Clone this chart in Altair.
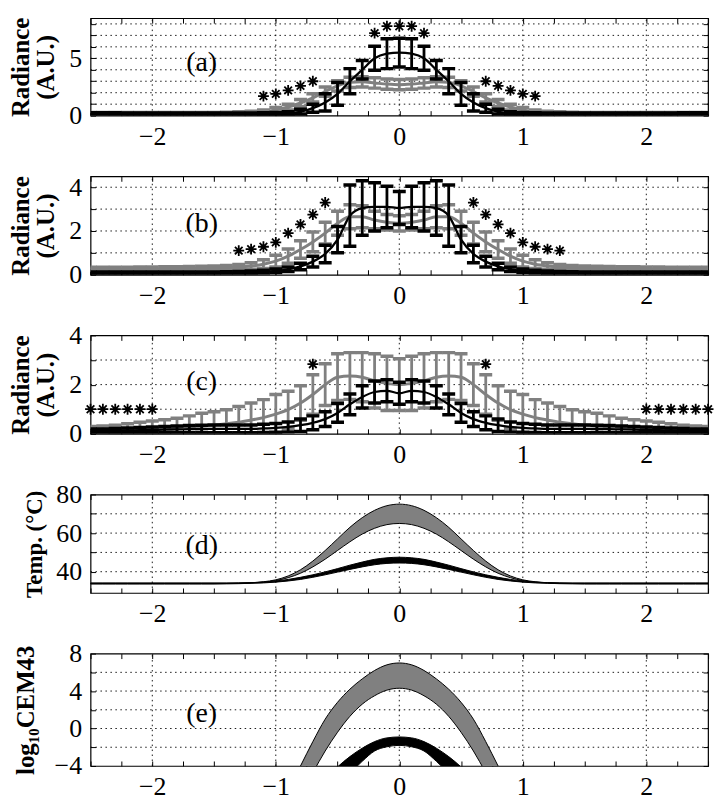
import altair as alt
import pandas as pd

# ---------------- data ----------------
X = [-2.5, -2.4, -2.3, -2.2, -2.1, -2.0, -1.9, -1.8, -1.7, -1.6,
     -1.5, -1.4, -1.3, -1.2, -1.1, -1.0, -0.9, -0.8, -0.7, -0.6,
     -0.5, -0.4, -0.3, -0.2, -0.1, 0.0, 0.1, 0.2, 0.3, 0.4,
     0.5, 0.6, 0.7, 0.8, 0.9, 1.0, 1.1, 1.2, 1.3, 1.4,
     1.5, 1.6, 1.7, 1.8, 1.9, 2.0, 2.1, 2.2, 2.3, 2.4,
     2.5]

# panel (a)
A_BLACK_MEAN = [0.15, 0.15, 0.15, 0.14, 0.14, 0.13, 0.13, 0.13, 0.13, 0.13,
                0.13, 0.13, 0.13, 0.14, 0.15, 0.17, 0.22, 0.35, 0.65, 1.15,
                1.9, 3.0, 4.0, 5.0, 5.4, 5.5, 5.4, 5.0, 4.0, 3.0,
                1.9, 1.15, 0.65, 0.35, 0.22, 0.17, 0.15, 0.14, 0.13, 0.13,
                0.13, 0.13, 0.13, 0.13, 0.13, 0.13, 0.14, 0.14, 0.15, 0.15,
                0.15]
A_BLACK_ERR = [0.1, 0.1, 0.1, 0.1, 0.1, 0.1, 0.1, 0.1, 0.1, 0.1,
               0.1, 0.1, 0.1, 0.1, 0.1, 0.1, 0.12, 0.2, 0.35, 0.75,
               1.0, 1.1, 0.8, 1.05, 1.3, 1.25, 1.3, 1.05, 0.8, 1.1,
               1.0, 0.75, 0.35, 0.2, 0.12, 0.1, 0.1, 0.1, 0.1, 0.1,
               0.1, 0.1, 0.1, 0.1, 0.1, 0.1, 0.1, 0.1, 0.1, 0.1,
               0.1]
A_GREY_MEAN = [0.2, 0.2, 0.2, 0.2, 0.2, 0.2, 0.2, 0.2, 0.2, 0.2,
               0.2, 0.21, 0.23, 0.27, 0.35, 0.5, 0.75, 1.1, 1.55, 2.1,
               2.6, 2.9, 2.95, 2.85, 2.75, 2.7, 2.75, 2.85, 2.95, 2.9,
               2.6, 2.1, 1.55, 1.1, 0.75, 0.5, 0.35, 0.27, 0.23, 0.21,
               0.2, 0.2, 0.2, 0.2, 0.2, 0.2, 0.2, 0.2, 0.2, 0.2,
               0.2]
A_GREY_ERR = [0.08, 0.08, 0.08, 0.08, 0.08, 0.08, 0.08, 0.08, 0.08, 0.08,
              0.08, 0.08, 0.1, 0.12, 0.15, 0.2, 0.25, 0.3, 0.35, 0.4,
              0.45, 0.45, 0.45, 0.45, 0.45, 0.45, 0.45, 0.45, 0.45, 0.45,
              0.45, 0.4, 0.35, 0.3, 0.25, 0.2, 0.15, 0.12, 0.1, 0.08,
              0.08, 0.08, 0.08, 0.08, 0.08, 0.08, 0.08, 0.08, 0.08, 0.08,
              0.08]
A_STAR_X = [-1.1, -1.0, -0.9, -0.8, -0.7, -0.2, -0.1, 0.0, 0.1, 0.2, 0.7, 0.8, 0.9, 1.0, 1.1]
A_STAR_Y = [1.7, 1.9, 2.2, 2.6, 3.0, 7.2, 7.8, 7.8, 7.8, 7.2, 3.0, 2.6, 2.2, 1.9, 1.7]

# panel (b)
B_BLACK_MEAN = [0.07, 0.07, 0.07, 0.07, 0.07, 0.07, 0.07, 0.07, 0.07, 0.08,
                0.08, 0.09, 0.1, 0.12, 0.14, 0.18, 0.25, 0.38, 0.6, 0.95,
                1.6, 2.7, 3.05, 3.1, 3.1, 3.05, 3.1, 3.1, 3.05, 2.7,
                1.6, 0.95, 0.6, 0.38, 0.25, 0.18, 0.14, 0.12, 0.1, 0.09,
                0.08, 0.08, 0.07, 0.07, 0.07, 0.07, 0.07, 0.07, 0.07, 0.07,
                0.07]
B_BLACK_ERR = [0.05, 0.05, 0.05, 0.05, 0.05, 0.05, 0.05, 0.05, 0.05, 0.05,
               0.05, 0.05, 0.05, 0.05, 0.06, 0.08, 0.1, 0.15, 0.25, 0.4,
               0.6, 1.4, 1.25, 1.1, 0.95, 0.75, 0.95, 1.1, 1.25, 1.4,
               0.6, 0.4, 0.25, 0.15, 0.1, 0.08, 0.06, 0.05, 0.05, 0.05,
               0.05, 0.05, 0.05, 0.05, 0.05, 0.05, 0.05, 0.05, 0.05, 0.05,
               0.05]
B_GREY_MEAN = [0.24, 0.24, 0.24, 0.24, 0.25, 0.25, 0.26, 0.27, 0.28, 0.29,
               0.3, 0.32, 0.35, 0.4, 0.48, 0.62, 0.85, 1.15, 1.5, 1.9,
               2.35, 2.65, 2.65, 2.5, 2.4, 2.35, 2.4, 2.5, 2.65, 2.65,
               2.35, 1.9, 1.5, 1.15, 0.85, 0.62, 0.48, 0.4, 0.35, 0.32,
               0.3, 0.29, 0.28, 0.27, 0.26, 0.25, 0.25, 0.24, 0.24, 0.24,
               0.24]
B_GREY_ERR = [0.1, 0.1, 0.1, 0.1, 0.1, 0.1, 0.1, 0.1, 0.1, 0.1,
              0.1, 0.1, 0.12, 0.15, 0.2, 0.27, 0.33, 0.4, 0.45, 0.5,
              0.55, 0.55, 0.5, 0.4, 0.35, 0.35, 0.35, 0.4, 0.5, 0.55,
              0.55, 0.5, 0.45, 0.4, 0.33, 0.27, 0.2, 0.15, 0.12, 0.1,
              0.1, 0.1, 0.1, 0.1, 0.1, 0.1, 0.1, 0.1, 0.1, 0.1,
              0.1]
B_STAR_X = [-1.3, -1.2, -1.1, -1.0, -0.9, -0.8, -0.7, -0.6, 0.6, 0.7, 0.8, 0.9, 1.0, 1.1, 1.2, 1.3]
B_STAR_Y = [1.1, 1.17, 1.28, 1.48, 1.9, 2.3, 2.75, 3.3, 3.3, 2.75, 2.3, 1.9, 1.48, 1.28, 1.17, 1.1]

# panel (c)
C_BLACK_MEAN = [0.12, 0.12, 0.13, 0.14, 0.15, 0.16, 0.17, 0.18, 0.19, 0.2,
                0.2, 0.2, 0.2, 0.2, 0.22, 0.24, 0.28, 0.35, 0.45, 0.6,
                0.85, 1.2, 1.5, 1.7, 1.75, 1.65, 1.75, 1.7, 1.5, 1.2,
                0.85, 0.6, 0.45, 0.35, 0.28, 0.24, 0.22, 0.2, 0.2, 0.2,
                0.2, 0.2, 0.19, 0.18, 0.17, 0.16, 0.15, 0.14, 0.13, 0.12,
                0.12]
C_BLACK_ERR = [0.08, 0.08, 0.09, 0.1, 0.11, 0.12, 0.13, 0.14, 0.15, 0.15,
               0.16, 0.16, 0.16, 0.16, 0.17, 0.18, 0.2, 0.25, 0.28, 0.3,
               0.38, 0.42, 0.45, 0.45, 0.45, 0.45, 0.45, 0.45, 0.45, 0.42,
               0.38, 0.3, 0.28, 0.25, 0.2, 0.18, 0.17, 0.16, 0.16, 0.16,
               0.16, 0.15, 0.15, 0.14, 0.13, 0.12, 0.11, 0.1, 0.09, 0.08,
               0.08]
C_GREY_MEAN = [0.2, 0.2, 0.2, 0.21, 0.22, 0.23, 0.24, 0.26, 0.29, 0.32,
               0.36, 0.41, 0.47, 0.56, 0.66, 0.8, 0.98, 1.25, 1.6, 2.0,
               2.3, 2.35, 2.3, 2.15, 2.05, 2.0, 2.05, 2.15, 2.3, 2.35,
               2.3, 2.0, 1.6, 1.25, 0.98, 0.8, 0.66, 0.56, 0.47, 0.41,
               0.36, 0.32, 0.29, 0.26, 0.24, 0.23, 0.22, 0.21, 0.2, 0.2,
               0.2]
C_GREY_ERR = [0.1, 0.12, 0.15, 0.2, 0.25, 0.29, 0.33, 0.37, 0.44, 0.52,
              0.54, 0.57, 0.64, 0.69, 0.73, 0.8, 0.75, 0.7, 0.8, 0.85,
              0.95, 0.95, 1.0, 1.1, 1.1, 1.05, 1.1, 1.1, 1.0, 0.95,
              0.95, 0.85, 0.8, 0.7, 0.75, 0.8, 0.73, 0.69, 0.64, 0.57,
              0.54, 0.52, 0.44, 0.37, 0.33, 0.29, 0.25, 0.2, 0.15, 0.12,
              0.1]
C_STAR_X = [-2.5, -2.4, -2.3, -2.2, -2.1, -2.0, -0.7, 0.7, 2.0, 2.1, 2.2, 2.3, 2.4, 2.5]
C_STAR_Y = [1.0, 1.0, 1.0, 1.0, 1.0, 1.0, 2.83, 2.83, 1.0, 1.0, 1.0, 1.0, 1.0, 1.0]

# panel (d): temperature bands
D_GREY_UP = [34, 34, 34, 34, 34, 34, 34, 34, 34, 34,
             34, 34, 34.1, 34.3, 34.8, 35.8, 37.8, 41, 45.5, 51,
             57, 63, 68, 71.8, 74.2, 75, 74.2, 71.8, 68, 63,
             57, 51, 45.5, 41, 37.8, 35.8, 34.8, 34.3, 34.1, 34,
             34, 34, 34, 34, 34, 34, 34, 34, 34, 34,
             34]
D_GREY_LO = [34, 34, 34, 34, 34, 34, 34, 34, 34, 34,
             34, 34, 34.0, 34.2, 34.6, 35.4, 36.9, 39.2, 42.5, 46.5,
             51, 55.5, 59.5, 62.5, 64.4, 65, 64.4, 62.5, 59.5, 55.5,
             51, 46.5, 42.5, 39.2, 36.9, 35.4, 34.6, 34.2, 34, 34,
             34, 34, 34, 34, 34, 34, 34, 34, 34, 34,
             34]
D_BLACK_UP = [34.1, 34.1, 34.1, 34.1, 34.1, 34.1, 34.1, 34.1, 34.1, 34.1,
              34.1, 34.1, 34.2, 34.3, 34.6, 35.2, 36.0, 37.1, 38.4, 39.9,
              41.6, 43.4, 45, 46.4, 47.2, 47.5, 47.2, 46.4, 45, 43.4,
              41.6, 39.9, 38.4, 37.1, 36.0, 35.2, 34.6, 34.3, 34.2, 34.1,
              34.1, 34.1, 34.1, 34.1, 34.1, 34.1, 34.1, 34.1, 34.1, 34.1,
              34.1]
D_BLACK_LO = [33.6, 33.6, 33.6, 33.6, 33.6, 33.6, 33.6, 33.6, 33.6, 33.6,
              33.6, 33.7, 33.8, 34.0, 34.2, 34.6, 35.2, 36.0, 37.1, 38.4,
              39.8, 41.2, 42.5, 43.6, 44.3, 44.5, 44.3, 43.6, 42.5, 41.2,
              39.8, 38.4, 37.1, 36.0, 35.2, 34.6, 34.2, 34.0, 33.8, 33.7,
              33.6, 33.6, 33.6, 33.6, 33.6, 33.6, 33.6, 33.6, 33.6, 33.6,
              33.6]

# panel (e): log10 CEM43 bands
E_GREY_X = [-1.0, -0.9, -0.8, -0.7, -0.6, -0.5, -0.4, -0.3, -0.2, -0.1, 0.0,
            0.1, 0.2, 0.3, 0.4, 0.5, 0.6, 0.7, 0.8, 0.9, 1.0]
E_GREY_UP = [-9.2, -6.6, -4.0, -1.4, 1.0, 2.8, 4.2, 5.3, 6.2, 6.8, 7.0,
             6.8, 6.2, 5.3, 4.2, 2.8, 1.0, -1.4, -4.0, -6.6, -9.2]
E_GREY_LO = [-12.0, -9.5, -7.0, -4.7, -2.4, -0.4, 1.3, 2.6, 3.5, 4.1, 4.3,
             4.1, 3.5, 2.6, 1.3, -0.4, -2.4, -4.7, -7.0, -9.5, -12.0]
E_BLACK_X = [-0.6, -0.5, -0.4, -0.3, -0.2, -0.1, 0.0, 0.1, 0.2, 0.3, 0.4, 0.5, 0.6]
E_BLACK_UP = [-5.4, -4.1, -3.0, -2.1, -1.4, -1.0, -0.9, -1.0, -1.4, -2.1, -3.0, -4.1, -5.4]
E_BLACK_LO = [-7.6, -6.2, -4.8, -3.5, -2.4, -1.95, -1.8, -1.95, -2.4, -3.5, -4.8, -6.2, -7.6]

# axes / labels
X_DOMAIN = [-2.5, 2.5]
X_TICKS = [-2.5, -2.25, -2.0, -1.75, -1.5, -1.25, -1.0, -0.75, -0.5, -0.25, 0.0,
           0.25, 0.5, 0.75, 1.0, 1.25, 1.5, 1.75, 2.0, 2.25, 2.5]
X_GRID = [-2, -1, 0, 1, 2]
PANEL_LABELS = ["(a)", "(b)", "(c)", "(d)", "(e)"]
PANEL_LABEL_X = -1.6
PANEL_LABEL_Y = [4.6, 2.3, 2.1, 53.3, 1.5]

# ---------------- styling ----------------
FONT = "Liberation Serif"
GREY = "#808080"
W = 621
HEIGHTS = [98, 99, 99, 99, 113]
ASTERISK = "M-1,0L1,0M0,-1L0,1M-0.7,-0.7L0.7,0.7M-0.7,0.7L0.7,-0.7"
INSET = 5  # inward tick length
LABEL_STYLE = dict(labelFont=FONT, labelFontSize=26, labelColor="black",
                   tickColor="black", tickWidth=1)
# integer label text with a true minus sign
INT_TEXT = "(datum.value < 0 ? '\u2212' + toString(-datum.value) : toString(datum.value))"


def show_if(cond):
    return cond + " ? " + INT_TEXT + " : ''"


def frame_layers(h, ydom, yticks, ygrid, ylabel_expr, title, title_x, title_size):
    xs = alt.Scale(domain=X_DOMAIN, nice=False, zero=False)
    ys = alt.Scale(domain=ydom, nice=False, zero=False)
    grid_style = dict(color="black", strokeWidth=1, strokeDash=[1.5, 3.5], opacity=0.9)
    ax_bottom = alt.Axis(orient="bottom", values=X_TICKS,
                         labelExpr=show_if("datum.value % 1 == 0"),
                         offset=-INSET, tickSize=INSET, domain=False, grid=False,
                         labelPadding=8, labelFlush=False, labelOverlap=False, title=None,
                         **LABEL_STYLE)
    ax_top = alt.Axis(orient="top", values=X_TICKS, labels=False, offset=-INSET,
                      tickSize=INSET, domain=False, grid=False, title=None,
                      tickColor="black", tickWidth=1)
    ax_left = alt.Axis(orient="left", values=yticks, labelExpr=ylabel_expr,
                       offset=-INSET, tickSize=INSET, domain=False, grid=False,
                       labelPadding=9, labelFlush=False, labelOverlap=False,
                       title=title, titleX=title_x, titleY=h / 2, titleAngle=270,
                       titleAlign="center", titleBaseline="middle", titleLineHeight=25,
                       titleFont=FONT, titleFontSize=title_size, titleFontWeight="bold",
                       titleColor="black", **LABEL_STYLE)
    ax_right = alt.Axis(orient="right", values=yticks, labels=False, offset=-INSET,
                        tickSize=INSET, domain=False, grid=False, title=None,
                        tickColor="black", tickWidth=1)
    ybot = alt.YDatum(ydom[0], scale=ys, axis=None)
    ytop = alt.Y2Datum(ydom[1])
    xleft = alt.XDatum(X_DOMAIN[0], scale=xs, axis=None)
    xright = alt.X2Datum(X_DOMAIN[1])
    vgrid = alt.Chart(pd.DataFrame({"gx": X_GRID})).mark_rule(**grid_style).encode(
        x=alt.X("gx:Q", scale=xs, axis=ax_bottom), y=ybot, y2=ytop)
    hgrid = alt.Chart(pd.DataFrame({"gy": ygrid})).mark_rule(**grid_style).encode(
        y=alt.Y("gy:Q", scale=ys, axis=ax_left), x=xleft, x2=xright)
    top = alt.Chart(pd.DataFrame({"t": X_TICKS})).mark_point(opacity=0).encode(
        x=alt.X("t:Q", scale=xs, axis=ax_top), y=ybot)
    right = alt.Chart(pd.DataFrame({"t": yticks})).mark_point(opacity=0).encode(
        y=alt.Y("t:Q", scale=ys, axis=ax_right), x=xleft)
    return xs, ys, [vgrid, hgrid, top, right]


def errorbar_layers(xs, ys, mean, err, color, line_w):
    df = pd.DataFrame({"x": X, "m": mean, "e": err})
    base = alt.Chart(df).transform_calculate(lo="datum.m - datum.e", hi="datum.m + datum.e")
    xe = alt.X("x:Q", scale=xs, axis=None)
    stem = base.mark_rule(color=color, strokeWidth=2.8, clip=True).encode(
        x=xe, y=alt.Y("lo:Q", scale=ys, axis=None), y2="hi:Q")
    cap_hi = base.mark_tick(color=color, orient="horizontal", size=13, thickness=3.5,
                            opacity=1, clip=True).encode(
        x=xe, y=alt.Y("hi:Q", scale=ys, axis=None))
    cap_lo = base.mark_tick(color=color, orient="horizontal", size=13, thickness=3.5,
                            opacity=1, clip=True).encode(
        x=xe, y=alt.Y("lo:Q", scale=ys, axis=None))
    line = base.mark_line(color=color, strokeWidth=line_w, interpolate="monotone", clip=True).encode(
        x=xe, y=alt.Y("m:Q", scale=ys, axis=None))
    return [stem, cap_hi, cap_lo, line]


def stars_layer(xs, ys, sx, sy):
    return alt.Chart(pd.DataFrame({"x": sx, "y": sy})).mark_point(
        shape=ASTERISK, size=120, filled=False, color="black", stroke="black",
        strokeWidth=1.8, opacity=1).encode(
        x=alt.X("x:Q", scale=xs, axis=None), y=alt.Y("y:Q", scale=ys, axis=None))


def label_layer(xs, ys, i):
    df = pd.DataFrame({"x": [PANEL_LABEL_X], "y": [PANEL_LABEL_Y[i]], "t": [PANEL_LABELS[i]]})
    return alt.Chart(df).mark_text(font=FONT, fontSize=28, color="black",
                                   align="center", baseline="middle").encode(
        x=alt.X("x:Q", scale=xs, axis=None), y=alt.Y("y:Q", scale=ys, axis=None), text="t:N")


def band_layer(xs, ys, xv, up, lo, fill):
    df = pd.DataFrame({"x": xv, "up": up, "lo": lo})
    return alt.Chart(df).mark_area(fill=fill, fillOpacity=1, stroke="black", strokeWidth=1,
                                   interpolate="monotone", clip=True).encode(
        x=alt.X("x:Q", scale=xs, axis=None), y=alt.Y("up:Q", scale=ys, axis=None), y2="lo:Q")


def radiance_panel(i, ydom, yticks, ygrid, lab_expr, bm, be, gm, ge, sx, sy):
    h = HEIGHTS[i]
    xs, ys, layers = frame_layers(h, ydom, yticks, ygrid, lab_expr,
                                  ["Radiance", "(A.U.)"], -75, 25)
    layers += errorbar_layers(xs, ys, gm, ge, GREY, 3)
    layers += errorbar_layers(xs, ys, bm, be, "black", 2.3)
    layers.append(stars_layer(xs, ys, sx, sy))
    layers.append(label_layer(xs, ys, i))
    return alt.layer(*layers).resolve_axis(x="independent", y="independent").properties(
        width=W, height=h)


pa = radiance_panel(0, [0, 8.5], [0, 1, 2, 3, 4, 5, 6, 7, 8], [1, 2, 3, 4, 5, 6, 7, 8],
                    show_if("(datum.value == 0 || datum.value == 5)"),
                    A_BLACK_MEAN, A_BLACK_ERR, A_GREY_MEAN, A_GREY_ERR, A_STAR_X, A_STAR_Y)
pb = radiance_panel(1, [0, 4.5], [0, 1, 2, 3, 4], [1, 2, 3, 4],
                    show_if("datum.value % 2 == 0"),
                    B_BLACK_MEAN, B_BLACK_ERR, B_GREY_MEAN, B_GREY_ERR, B_STAR_X, B_STAR_Y)
pc = radiance_panel(2, [0, 4], [0, 1, 2, 3, 4], [1, 2, 3],
                    show_if("datum.value % 2 == 0"),
                    C_BLACK_MEAN, C_BLACK_ERR, C_GREY_MEAN, C_GREY_ERR, C_STAR_X, C_STAR_Y)

# panel (d)
xs_d, ys_d, lay_d = frame_layers(HEIGHTS[3], [29, 80], [40, 50, 60, 70, 80], [40, 50, 60, 70],
                                 show_if("datum.value % 20 == 0"),
                                 "Temp. (°C)", -61, 23)
lay_d.append(band_layer(xs_d, ys_d, X, D_GREY_UP, D_GREY_LO, GREY))
lay_d.append(band_layer(xs_d, ys_d, X, D_BLACK_UP, D_BLACK_LO, "black"))
lay_d.append(label_layer(xs_d, ys_d, 3))
pd_ = alt.layer(*lay_d).resolve_axis(x="independent", y="independent").properties(
    width=W, height=HEIGHTS[3])

# panel (e)
xs_e, ys_e, lay_e = frame_layers(HEIGHTS[4], [-4, 8], [-4, -2, 0, 2, 4, 6, 8], [-2, 0, 2, 4, 6],
                                 show_if("datum.value % 4 == 0"),
                                 "log₁₀CEM43", -70, 25)
lay_e.append(band_layer(xs_e, ys_e, E_GREY_X, E_GREY_UP, E_GREY_LO, GREY))
lay_e.append(band_layer(xs_e, ys_e, E_BLACK_X, E_BLACK_UP, E_BLACK_LO, "black"))
lay_e.append(label_layer(xs_e, ys_e, 4))
pe = alt.layer(*lay_e).resolve_axis(x="independent", y="independent").properties(
    width=W, height=HEIGHTS[4])

chart = alt.vconcat(pa, pb, pc, pd_, pe, spacing=61, bounds="flush").properties(
    padding={"left": 0, "top": 0, "right": 0, "bottom": 0},
    background="white",
).configure_view(
    stroke="black", strokeWidth=1.2
)

chart.save("out.html", embed_options={"renderer": "svg", "actions": False})
